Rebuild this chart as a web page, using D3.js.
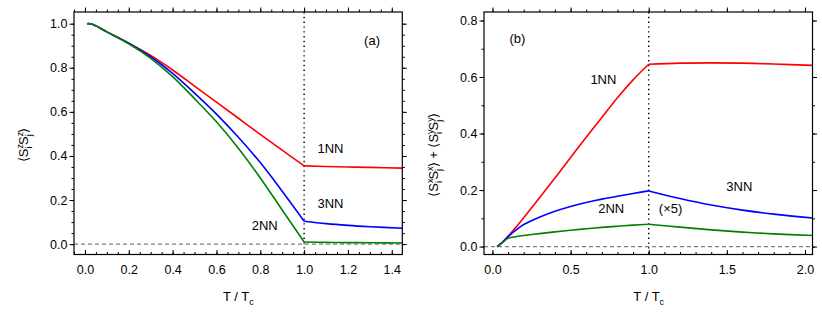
<!DOCTYPE html>
<html>
<head>
<meta charset="utf-8">
<script src="https://cdn.jsdelivr.net/npm/d3@7"></script>
<style>
  body { margin: 0; background: #fff; }
  text { font-family: "Liberation Sans", Arial, sans-serif; fill: #000; }
</style>
</head>
<body>
<svg id="chart" width="822" height="313"></svg>
<script>
// panel (a): <Sz Sz> vs T/Tc
const tA     = [0.01, 0.03, 0.05, 0.1, 0.2, 0.3, 0.4, 0.5, 0.6, 0.7, 0.8, 0.9, 1.0, 1.1, 1.2, 1.3, 1.45];
const redA   = [1.0, 0.999, 0.99, 0.963, 0.912, 0.856, 0.79, 0.717, 0.644, 0.571, 0.498, 0.426, 0.355, 0.352, 0.35, 0.348, 0.345];
const blueA  = [1.0, 0.999, 0.99, 0.963, 0.911, 0.85, 0.775, 0.685, 0.59, 0.485, 0.37, 0.24, 0.104, 0.093, 0.085, 0.079, 0.072];
const greenA = [1.0, 0.999, 0.99, 0.963, 0.909, 0.843, 0.76, 0.66, 0.555, 0.435, 0.3, 0.155, 0.01, 0.008, 0.007, 0.006, 0.005];

// panel (b): <Sx Sx> + <Sy Sy> vs T/Tc
const tB     = [0.03, 0.06, 0.1, 0.15, 0.2, 0.3, 0.4, 0.5, 0.6, 0.7, 0.8, 0.9, 1.0, 1.2, 1.4, 1.6, 1.8, 2.05];
const redB   = [0, 0.013, 0.036, 0.068, 0.102, 0.172, 0.243, 0.315, 0.387, 0.457, 0.527, 0.59, 0.645, 0.649, 0.65, 0.649, 0.646, 0.641];
const blueB  = [0, 0.013, 0.035, 0.058, 0.078, 0.104, 0.125, 0.142, 0.156, 0.168, 0.178, 0.188, 0.197, 0.17, 0.147, 0.129, 0.115, 0.101];
const greenB = [0, 0.013, 0.029, 0.035, 0.039, 0.046, 0.052, 0.058, 0.063, 0.068, 0.072, 0.076, 0.079, 0.069, 0.059, 0.051, 0.045, 0.039];

const ticksXA = [0, 0.2, 0.4, 0.6, 0.8, 1.0, 1.2, 1.4];
const ticksYA = [0, 0.2, 0.4, 0.6, 0.8, 1.0];
const ticksXB = [0, 0.5, 1.0, 1.5, 2.0];
const ticksYB = [0, 0.2, 0.4, 0.6, 0.8];

const colors = { red: "#ff0000", blue: "#0000ff", green: "#008000" };

const svg = d3.select("#chart");

function panel(cfg) {
  const x = d3.scaleLinear().domain(cfg.xDomain).range([cfg.left, cfg.right]);
  const y = d3.scaleLinear().domain(cfg.yDomain).range([cfg.bottom, cfg.top]);
  const g = svg.append("g");

  // reference lines
  g.append("line")
    .attr("x1", cfg.left).attr("x2", cfg.right)
    .attr("y1", y(0)).attr("y2", y(0))
    .attr("stroke", "#808080").attr("stroke-width", 1.2)
    .attr("stroke-dasharray", "4,3");
  g.append("line")
    .attr("x1", x(1)).attr("x2", x(1))
    .attr("y1", cfg.top).attr("y2", cfg.bottom)
    .attr("stroke", "#000").attr("stroke-width", 1.4)
    .attr("stroke-dasharray", "1.4,3.4");

  // curves, split at the kink T = 1
  const line = d3.line().x(d => x(d[0])).y(d => y(d[1])).curve(d3.curveCatmullRom.alpha(0.5));
  cfg.series.forEach(s => {
    const pts = cfg.t.map((t, i) => [t, s.values[i]]);
    const lo = pts.filter(p => p[0] <= 1);
    const hi = pts.filter(p => p[0] >= 1);
    [lo, hi].forEach(seg => {
      g.append("path").datum(seg)
        .attr("d", line)
        .attr("fill", "none")
        .attr("stroke", s.color)
        .attr("stroke-width", 1.6);
    });
  });

  // axes
  const minorX = d3.range(cfg.xDomain[0], cfg.xDomain[1], cfg.xMinor)
    .map(v => Math.round(v / cfg.xMinor) * cfg.xMinor)
    .filter(v => v >= cfg.xDomain[0] && v <= cfg.xDomain[1]);
  const minorY = d3.range(cfg.yDomain[0], cfg.yDomain[1], cfg.yMinor)
    .map(v => Math.round(v / cfg.yMinor) * cfg.yMinor)
    .filter(v => v >= cfg.yDomain[0] && v <= cfg.yDomain[1]);

  const fmt = d3.format(".1f");
  function styleAxis(sel) {
    sel.select(".domain").remove();
    sel.selectAll("line").attr("stroke", "#000").attr("stroke-width", 1);
    sel.selectAll("text").attr("font-size", 12.5).attr("font-family", "Liberation Sans, Arial, sans-serif");
  }

  // bottom: ticks point inward
  g.append("g").attr("transform", `translate(0,${cfg.bottom})`)
    .call(d3.axisBottom(x).tickValues(minorX).tickSize(-2.5).tickFormat(""))
    .call(styleAxis);
  g.append("g").attr("transform", `translate(0,${cfg.bottom})`)
    .call(d3.axisBottom(x).tickValues(cfg.xTicks).tickSize(-4.5).tickPadding(11).tickFormat(fmt))
    .call(styleAxis);
  // top: ticks point outward
  g.append("g").attr("transform", `translate(0,${cfg.top})`)
    .call(d3.axisTop(x).tickValues(minorX).tickSize(2.5).tickFormat(""))
    .call(styleAxis);
  g.append("g").attr("transform", `translate(0,${cfg.top})`)
    .call(d3.axisTop(x).tickValues(cfg.xTicks).tickSize(4.5).tickFormat(""))
    .call(styleAxis);
  // left
  g.append("g").attr("transform", `translate(${cfg.left},0)`)
    .call(d3.axisLeft(y).tickValues(minorY).tickSize(2.5).tickFormat(""))
    .call(styleAxis);
  g.append("g").attr("transform", `translate(${cfg.left},0)`)
    .call(d3.axisLeft(y).tickValues(cfg.yTicks).tickSize(4.5).tickPadding(2).tickFormat(fmt))
    .call(styleAxis);
  // right
  g.append("g").attr("transform", `translate(${cfg.right},0)`)
    .call(d3.axisRight(y).tickValues(minorY).tickSize(2.5).tickFormat(""))
    .call(styleAxis);
  g.append("g").attr("transform", `translate(${cfg.right},0)`)
    .call(d3.axisRight(y).tickValues(cfg.yTicks).tickSize(4.5).tickFormat(""))
    .call(styleAxis);

  // frame
  g.append("rect")
    .attr("x", cfg.left).attr("y", cfg.top)
    .attr("width", cfg.right - cfg.left).attr("height", cfg.bottom - cfg.top)
    .attr("fill", "none").attr("stroke", "#000").attr("stroke-width", 1.2);

  // x title: T / Tc
  const xt = g.append("text")
    .attr("x", x(cfg.xTitleAt)).attr("y", 301)
    .attr("text-anchor", "middle").attr("font-size", 13);
  xt.append("tspan").text("T / T");
  xt.append("tspan").text("c").attr("font-size", 9).attr("dy", 4);

  // y title with stacked sub/superscripts
  const yt = g.append("text")
    .attr("transform", `translate(${cfg.yTitleX},${cfg.yTitleY}) rotate(-90)`)
    .attr("text-anchor", "middle").attr("font-size", 13);
  let lowered = false;
  cfg.yTitle.forEach(p => {
    if (p.t) {
      const ts = yt.append("tspan").text(p.t);
      if (lowered) { ts.attr("dy", -4).attr("dx", 1.5); lowered = false; }
    } else {
      yt.append("tspan").text(p.sup).attr("font-size", 9).attr("dy", lowered ? -9 : -5);
      yt.append("tspan").text(p.sub).attr("font-size", 9).attr("dx", -4.5).attr("dy", 9);
      lowered = true;
    }
  });

  // annotations
  cfg.notes.forEach(n => {
    g.append("text")
      .attr("x", x(n.x)).attr("y", y(n.y))
      .attr("text-anchor", "middle").attr("font-size", 13)
      .text(n.text);
  });
}

panel({
  left: 74, right: 402.3, top: 12, bottom: 254.5,
  xDomain: [-0.05, 1.448], yDomain: [-0.047, 1.053],
  xTicks: ticksXA, yTicks: ticksYA, xMinor: 0.05, yMinor: 0.05,
  t: tA,
  series: [
    { values: redA, color: colors.red },
    { values: blueA, color: colors.blue },
    { values: greenA, color: colors.green }
  ],
  xTitleAt: 0.7, yTitleX: 28, yTitleY: 145,
  yTitle: [{ t: "\u27E8S" }, { sup: "z", sub: "i" }, { t: "S" }, { sup: "z", sub: "j" }, { t: "\u27E9" }],
  notes: [
    { text: "(a)", x: 1.31, y: 0.905 },
    { text: "1NN", x: 1.12, y: 0.415 },
    { text: "3NN", x: 1.12, y: 0.165 },
    { text: "2NN", x: 0.82, y: 0.065 }
  ]
});

panel({
  left: 484, right: 812.5, top: 12, bottom: 254.5,
  xDomain: [-0.054, 2.048], yDomain: [-0.028, 0.83],
  xTicks: ticksXB, yTicks: ticksYB, xMinor: 0.1, yMinor: 0.1,
  t: tB,
  series: [
    { values: redB, color: colors.red },
    { values: blueB, color: colors.blue },
    { values: greenB, color: colors.green }
  ],
  xTitleAt: 1.0, yTitleX: 438, yTitleY: 155,
  yTitle: [{ t: "\u27E8S" }, { sup: "x", sub: "i" }, { t: "S" }, { sup: "x", sub: "j" }, { t: "\u27E9 + \u27E8S" }, { sup: "y", sub: "i" }, { t: "S" }, { sup: "y", sub: "j" }, { t: "\u27E9" }],
  notes: [
    { text: "(b)", x: 0.16, y: 0.72 },
    { text: "1NN", x: 0.71, y: 0.575 },
    { text: "3NN", x: 1.58, y: 0.195 },
    { text: "2NN", x: 0.76, y: 0.12 },
    { text: "(\u00D75)", x: 1.14, y: 0.12 }
  ]
});
</script>
</body>
</html>
